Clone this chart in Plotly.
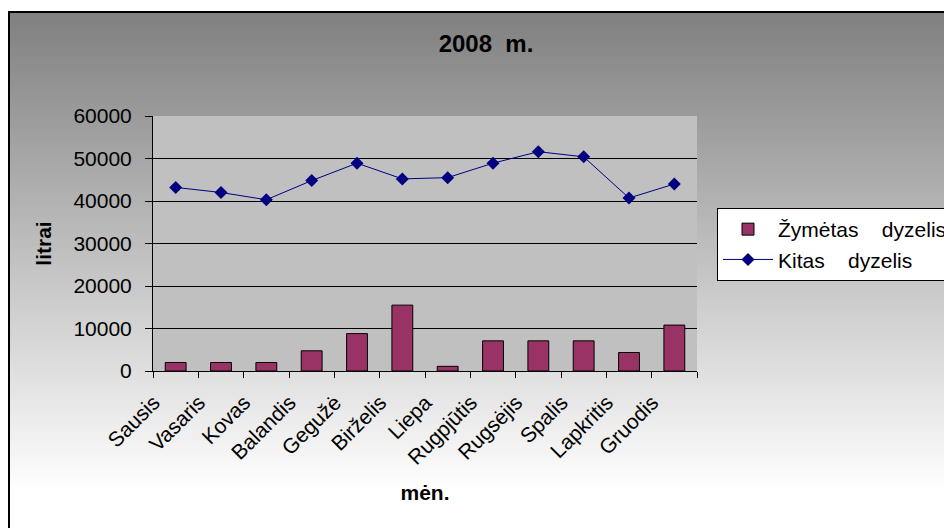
import plotly.graph_objects as go

# ---- data ----
months = ["Sausis", "Vasaris", "Kovas", "Balandis", "Gegužė", "Birželis",
          "Liepa", "Rugpjūtis", "Rugsėjis", "Spalis", "Lapkritis", "Gruodis"]
zymetas = [2000, 2000, 2000, 4750, 8800, 15500, 1100, 7100, 7100, 7100, 4350, 10800]
kitas = [43200, 42000, 40300, 44800, 48900, 45200, 45500, 48900, 51600, 50400, 40700, 44000]
y_tick_vals = [0, 10000, 20000, 30000, 40000, 50000, 60000]
y_tick_text = [str(v) for v in y_tick_vals]
name_bar = "Žymėtas\u00a0\u00a0\u00a0 dyzelis"
name_line = "Kitas\u00a0\u00a0\u00a0 dyzelis"

FONT = "Liberation Sans, Arial, sans-serif"
# page body has an 8px margin, so the figure is laid out 8px up/left
OFF = 8
W, H = 952, 528 - OFF
L, R, T, B = 153 - OFF, 255 + OFF, 116 - OFF, 157
PW, PH = W - L - R, H - T - B


def px2x(px):
    return (px - L) / PW


def py2y(py):
    return (H - B - py) / PH


fig = go.Figure()
fig.add_trace(go.Bar(
    x=months, y=zymetas, name=name_bar,
    marker=dict(color="#993366", line=dict(color="black", width=1)),
))
fig.add_trace(go.Scatter(
    x=months, y=kitas, name=name_line, mode="lines+markers",
    line=dict(color="#000080", width=1),
    marker=dict(symbol="diamond", size=10, color="#000080"),
))

# gradient chart-area background (stripes)
shapes = []
top_px, left_px = 12 - OFF, 8 - OFF
step = 3
for py in range(top_px, H + step, step):
    g = 128 + 127 * (py + OFF - 12) / 478
    g = int(round(min(255, max(0, g))))
    col = f"rgb({g},{g},{g})"
    shapes.append(dict(type="rect", xref="paper", yref="paper",
                       x0=px2x(left_px), x1=px2x(W + 10),
                       y0=py2y(py + step + 0.5), y1=py2y(py),
                       fillcolor=col, line=dict(width=0), layer="below"))
# chart-area border
shapes.append(dict(type="rect", xref="paper", yref="paper",
                   x0=px2x(left_px + 1), x1=px2x(W + 20),
                   y0=py2y(H + 20), y1=py2y(top_px),
                   fillcolor="rgba(0,0,0,0)", line=dict(color="black", width=2),
                   layer="below"))
# plot-area background
shapes.append(dict(type="rect", xref="x", yref="y",
                   x0=-0.5, x1=len(months) - 0.5, y0=0, y1=60000,
                   fillcolor="#C0C0C0", line=dict(width=0), layer="below"))

fig.update_layout(
    width=W, height=H,
    margin=dict(l=L, r=R, t=T, b=B, autoexpand=False),
    paper_bgcolor="white", plot_bgcolor="#C0C0C0",
    font=dict(family=FONT, size=21, color="black"),
    title=dict(text="<b>2008\u00a0 m.</b>", xref="container", yref="container",
               x=(486 - OFF) / W, y=1 - (44 - OFF) / H, xanchor="center", yanchor="middle",
               font=dict(family=FONT, size=24, color="black")),
    bargap=0.54,
    showlegend=True,
    legend=dict(xref="container", yref="container",
                x=(717 - OFF) / W, y=1 - (208 - OFF) / H,
                xanchor="left", yanchor="top", bgcolor="white",
                bordercolor="black", borderwidth=1, itemwidth=50,
                font=dict(family=FONT, size=21, color="black")),
    shapes=shapes,
    xaxis=dict(
        type="category", range=[-0.5, len(months) - 0.5],
        showline=True, linecolor="black", linewidth=1,
        ticks="outside", tickson="boundaries", ticklen=6, tickcolor="black",
        tickangle=-45, showgrid=False,
        ticklabelshift=-22, ticklabelstandoff=10,
        tickfont=dict(family=FONT, size=21, color="black"),
        title=dict(text="<b>mėn.</b>", standoff=17,
                   font=dict(family=FONT, size=21, color="black")),
    ),
    yaxis=dict(
        range=[0, 60000], tickvals=y_tick_vals, ticktext=y_tick_text,
        showline=True, linecolor="black", linewidth=1,
        ticks="outside", ticklen=7, tickcolor="black",
        showgrid=True, gridcolor="black", gridwidth=1,
        zeroline=False, ticklabelstandoff=9,
        tickfont=dict(family=FONT, size=21, color="black"),
        title=dict(text="<b>litrai</b>", standoff=16,
                   font=dict(family=FONT, size=21, color="black")),
    ),
)

fig.write_html("out.html")
